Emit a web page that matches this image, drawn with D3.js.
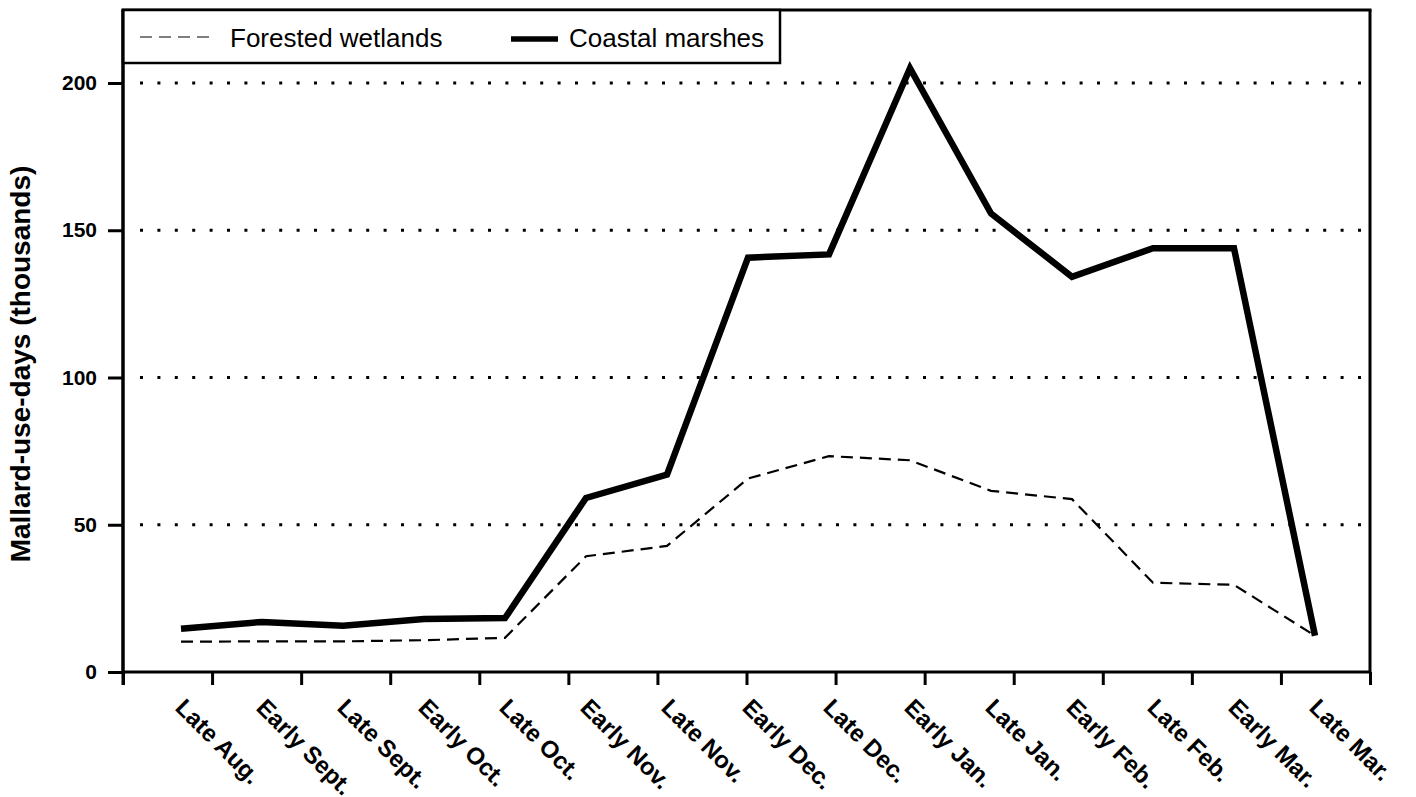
<!DOCTYPE html>
<html>
<head>
<meta charset="utf-8">
<script src="https://cdn.jsdelivr.net/npm/d3@7"></script>
<style>
  html, body { margin: 0; padding: 0; background: #fff; }
  svg { display: block; font-family: "Liberation Sans", Arial, sans-serif; }
</style>
</head>
<body>
<svg id="chart" width="1416" height="797"></svg>
<script>
// ---- data ----
const categories = ["Late Aug.", "Early Sept.", "Late Sept.", "Early Oct.", "Late Oct.",
  "Early Nov.", "Late Nov.", "Early Dec.", "Late Dec.", "Early Jan.", "Late Jan.",
  "Early Feb.", "Late Feb.", "Early Mar.", "Late Mar."];
const forestedWetlands = [10.3, 10.4, 10.4, 10.8, 11.6, 39.3, 42.8, 65.7, 73.3, 71.9, 61.5, 58.7, 30.3, 29.6, 12.3];
const coastalMarshes = [14.7, 17.0, 15.7, 18.0, 18.3, 59.1, 67.0, 140.7, 141.8, 205.0, 155.7, 134.2, 143.9, 143.9, 12.3];
const yTicks = [0, 50, 100, 150, 200];
const gridValues = [50, 100, 150, 200];
const seriesNames = ["Forested wetlands", "Coastal marshes"];
const yTitle = "Mallard-use-days (thousands)";

// ---- layout ----
const svg = d3.select("#chart");
const pLeft = 123, pRight = 1370, pTop = 10, pBottom = 672;

const y = d3.scaleLinear().domain([0, 200]).range([pBottom, 83]);
const xTick = d3.scaleLinear().domain([0, 14]).range([pLeft, pRight]);
const x = d3.scalePoint().domain(categories).range([181, 1315]);

// gridlines (dotted)
svg.append("g").selectAll("line").data(gridValues).join("line")
  .attr("x1", 140).attr("x2", pRight - 4)
  .attr("y1", d => y(d)).attr("y2", d => y(d))
  .attr("stroke", "#000").attr("stroke-width", 3)
  .attr("stroke-dasharray", "3,14.4");

// frame top & right
svg.append("line").attr("x1", pLeft - 1.5).attr("x2", pRight + 1.5)
  .attr("y1", pTop).attr("y2", pTop).attr("stroke", "#000").attr("stroke-width", 3);
svg.append("line").attr("x1", pRight).attr("x2", pRight)
  .attr("y1", pTop).attr("y2", pBottom).attr("stroke", "#000").attr("stroke-width", 3);

// y axis
const yAxis = svg.append("g").attr("transform", `translate(${pLeft},0)`)
  .call(d3.axisLeft(y).tickValues(yTicks).tickSize(15).tickPadding(11));
yAxis.select(".domain").attr("stroke-width", 3).attr("d", `M0,${pTop}V${pBottom + 13}`);
yAxis.selectAll(".tick line").attr("stroke-width", 3);
yAxis.selectAll(".tick text").attr("font-size", 21).attr("font-weight", "bold")
  .attr("fill", "#000").attr("font-family", "'Liberation Sans', Arial, sans-serif");

// x axis ticks (unlabeled)
const xAxis = svg.append("g").attr("transform", `translate(0,${pBottom})`)
  .call(d3.axisBottom(xTick).tickValues(d3.range(0, 15)).tickSize(13).tickFormat(""));
xAxis.select(".domain").attr("stroke-width", 3).attr("d", `M${pLeft},0H${pRight}`);
xAxis.selectAll(".tick line").attr("stroke-width", 3);

// x category labels
svg.append("g").selectAll("text").data(categories).join("text")
  .attr("transform", d => `translate(${x(d) - 7},709) rotate(45)`)
  .attr("text-anchor", "start")
  .attr("font-size", 24).attr("font-weight", "bold").attr("fill", "#000")
  .text(d => d);

// y title
svg.append("text")
  .attr("transform", `translate(29.5,364) rotate(-90)`)
  .attr("text-anchor", "middle")
  .attr("font-size", 28).attr("font-weight", "bold").attr("fill", "#000")
  .text(yTitle);

// lines
const line = d3.line().x((d, i) => x(categories[i])).y(d => y(d));
svg.append("path").datum(forestedWetlands)
  .attr("d", line).attr("fill", "none").attr("stroke", "#000")
  .attr("stroke-width", 2.2).attr("stroke-dasharray", "12,7");
svg.append("path").datum(coastalMarshes)
  .attr("d", line).attr("fill", "none").attr("stroke", "#000")
  .attr("stroke-width", 6.5).attr("stroke-linejoin", "miter").attr("stroke-miterlimit", 10);

// legend
const lg = svg.append("g");
lg.append("rect").attr("x", pLeft).attr("y", pTop).attr("width", 780 - pLeft).attr("height", 63 - pTop)
  .attr("fill", "#fff").attr("stroke", "#000").attr("stroke-width", 2.5);
lg.append("line").attr("x1", 140).attr("x2", 212).attr("y1", 37).attr("y2", 37)
  .attr("stroke", "#555").attr("stroke-width", 1.6).attr("stroke-dasharray", "12,7");
lg.append("text").attr("x", 230).attr("y", 46.5).attr("font-size", 26).attr("fill", "#000")
  .text(seriesNames[0]);
lg.append("line").attr("x1", 511).attr("x2", 558).attr("y1", 39).attr("y2", 39)
  .attr("stroke", "#000").attr("stroke-width", 5.5);
lg.append("text").attr("x", 569).attr("y", 46.5).attr("font-size", 26).attr("fill", "#000")
  .text(seriesNames[1]);
// redraw frame edges over legend
svg.append("line").attr("x1", pLeft).attr("x2", pLeft).attr("y1", pTop).attr("y2", pBottom)
  .attr("stroke", "#000").attr("stroke-width", 3);
</script>
</body>
</html>
